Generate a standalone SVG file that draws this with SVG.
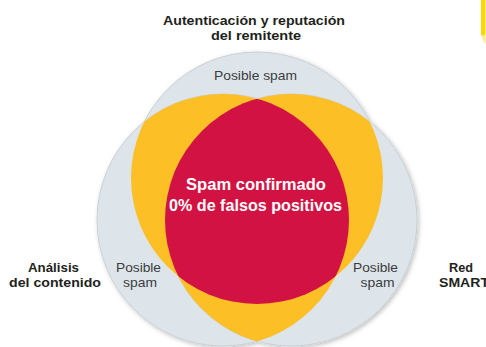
<svg xmlns="http://www.w3.org/2000/svg" width="486" height="347" viewBox="0 0 486 347">
<style>
.base{fill:#dde5eb;stroke:#c8d0d6;stroke-width:1}
.pair{fill:#fcbf26}
.tri{fill:#d21242}
.lbl{font-family:"Liberation Sans",Arial,sans-serif;font-weight:700;font-size:13px;fill:#231f20;text-anchor:middle}
.ps{font-family:"Liberation Sans",Arial,sans-serif;font-size:13px;fill:#3c3c3c;text-anchor:middle}
.ctr{font-family:"Liberation Sans",Arial,sans-serif;font-weight:700;font-size:16.5px;fill:#ffffff;text-anchor:middle}
</style>
<defs>
<clipPath id="cT"><circle cx="257" cy="178" r="126"/></clipPath>
<clipPath id="cL"><circle cx="223" cy="220" r="126"/></clipPath>
<clipPath id="cR"><circle cx="291" cy="220" r="126"/></clipPath>
<filter id="sh" x="-20%" y="-20%" width="140%" height="140%">
<feDropShadow dx="1.5" dy="1.5" stdDeviation="2.2" flood-color="#000" flood-opacity="0.25"/>
</filter>
</defs>
<rect width="486" height="347" fill="#ffffff"/>
<g id="accent">
<rect x="481" y="0" width="4.5" height="35" fill="#fdd900"/>
<polygon points="481,35 485.5,35 485.5,45" fill="#fde98a"/>
</g>
<g id="circles" filter="url(#sh)">
<circle id="circle-auth" class="base" cx="257" cy="178" r="126"/>
<circle id="circle-content" class="base" cx="223" cy="220" r="126"/>
<circle id="circle-smart" class="base" cx="291" cy="220" r="126"/>
</g>
<g id="overlaps">
<circle class="pair" cx="223" cy="220" r="126" clip-path="url(#cT)"/>
<circle class="pair" cx="291" cy="220" r="126" clip-path="url(#cT)"/>
<circle class="pair" cx="291" cy="220" r="126" clip-path="url(#cL)"/>
</g>
<g id="core">
<g clip-path="url(#cL)"><circle class="tri" cx="257" cy="178" r="126" clip-path="url(#cR)"/></g>
<text class="ctr"><tspan x="256" y="190" textLength="140" lengthAdjust="spacingAndGlyphs">Spam confirmado</tspan><tspan x="255.5" y="211" textLength="173" lengthAdjust="spacingAndGlyphs">0% de falsos positivos</tspan></text>
</g>
<g id="label-auth">
<text class="lbl"><tspan x="254" y="24.5" textLength="182" lengthAdjust="spacingAndGlyphs">Autenticación y reputación</tspan><tspan x="256" y="40" textLength="90" lengthAdjust="spacingAndGlyphs">del remitente</tspan></text>
<text class="ps" x="255.5" y="80" textLength="83" lengthAdjust="spacingAndGlyphs">Posible spam</text>
</g>
<g id="label-content">
<text class="lbl"><tspan x="53.5" y="272" textLength="51" lengthAdjust="spacingAndGlyphs">Análisis</tspan><tspan x="55" y="287" textLength="92" lengthAdjust="spacingAndGlyphs">del contenido</tspan></text>
<text class="ps"><tspan x="138.5" y="272" textLength="45" lengthAdjust="spacingAndGlyphs">Posible</tspan><tspan x="140" y="287" textLength="34" lengthAdjust="spacingAndGlyphs">spam</tspan></text>
</g>
<g id="label-smart">
<text class="lbl"><tspan x="461" y="272" textLength="24" lengthAdjust="spacingAndGlyphs">Red</tspan><tspan x="464" y="287" textLength="50" lengthAdjust="spacingAndGlyphs">SMART</tspan></text>
<text class="ps"><tspan x="375.5" y="272" textLength="45" lengthAdjust="spacingAndGlyphs">Posible</tspan><tspan x="377.5" y="287" textLength="34" lengthAdjust="spacingAndGlyphs">spam</tspan></text>
</g>
<g id="connectors"/>
</svg>
